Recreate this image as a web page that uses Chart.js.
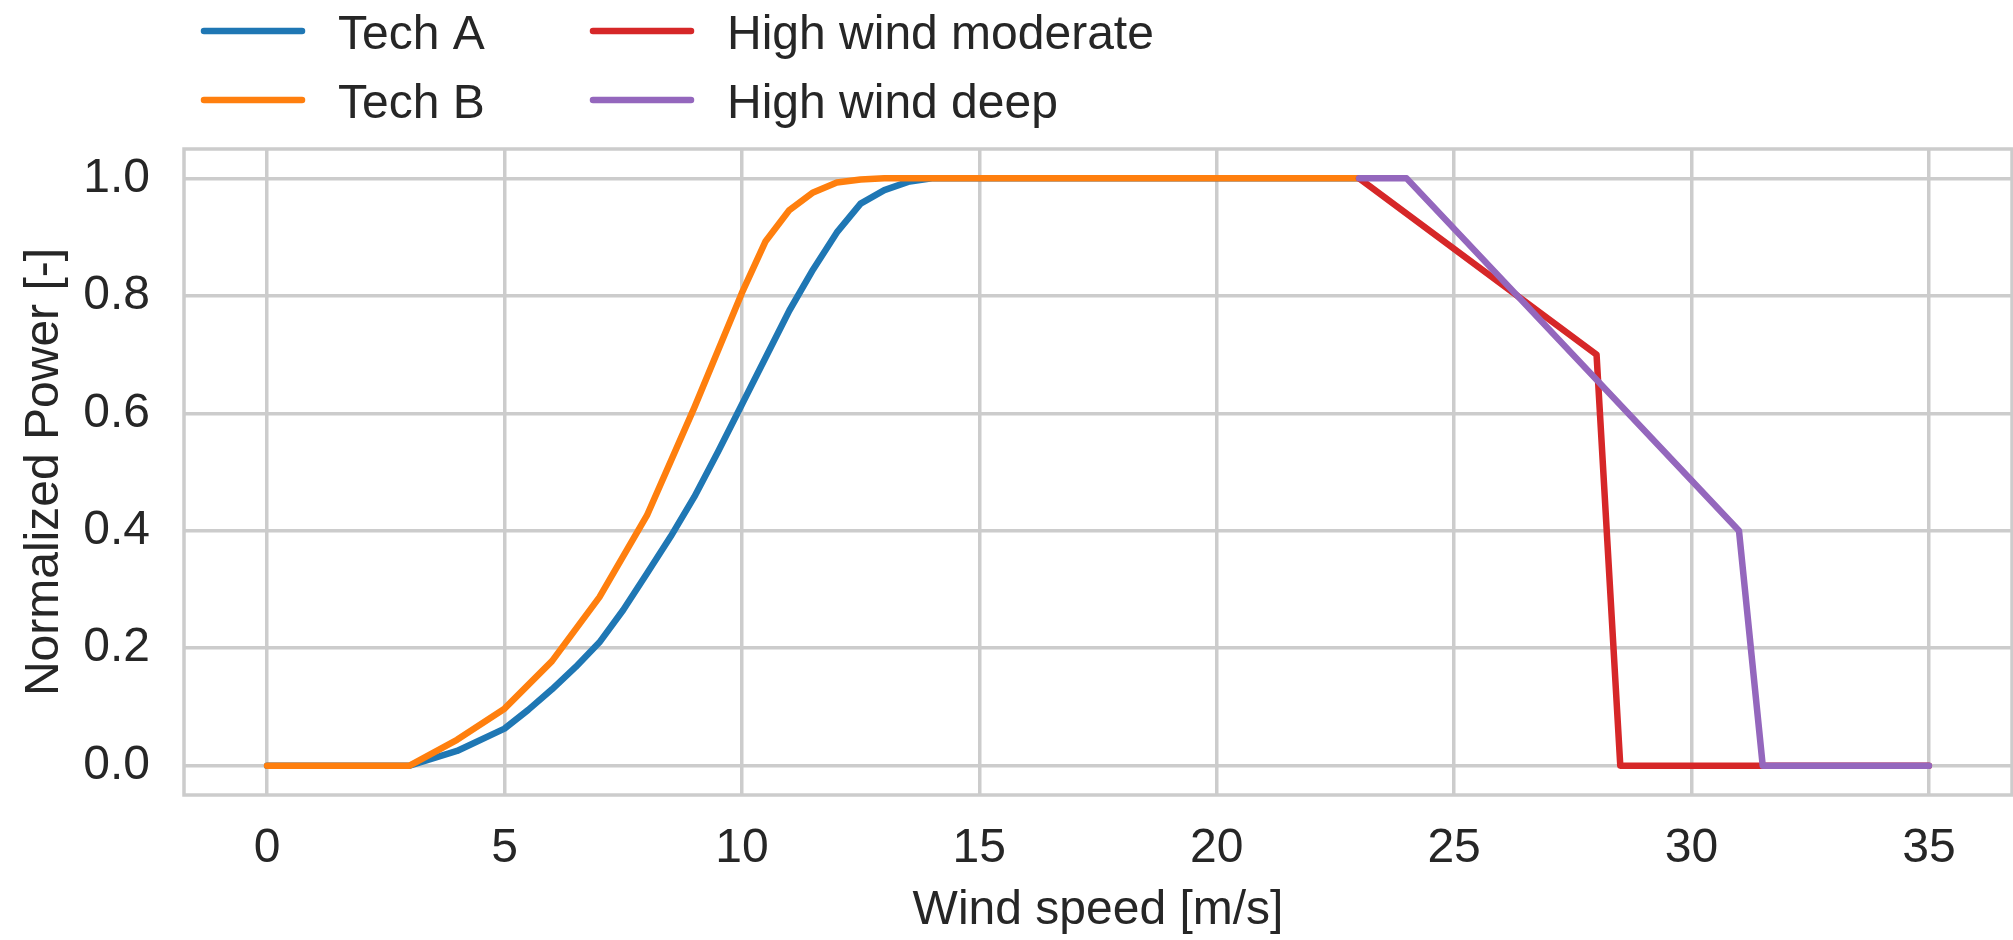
<!DOCTYPE html>
<html>
<head>
<meta charset="utf-8">
<title>Normalized power curves</title>
<script src="https://cdn.jsdelivr.net/npm/chart.js@4.4.0/dist/chart.umd.min.js"></script>
<style>
  html, body { margin: 0; padding: 0; background: #ffffff; }
</style>
</head>
<body>
<canvas id="powerChart" width="2013" height="940"></canvas>
<script>
// Power curves
var techASpeed = [0, 3, 4, 5, 5.5, 6, 6.5, 7, 7.5, 8, 8.5, 9, 9.5, 10, 10.5, 11, 11.5, 12, 12.5, 13, 13.5, 14, 23];
var techAPower = [0, 0, 0.025, 0.063, 0.095, 0.13, 0.168, 0.21, 0.265, 0.327, 0.39, 0.458, 0.535, 0.615, 0.695, 0.775, 0.845, 0.908, 0.957, 0.98, 0.994, 1.0, 1.0];

var techBSpeed = [0, 3, 4, 5, 6, 7, 8, 9, 10, 10.5, 11, 11.5, 12, 12.5, 13, 23];
var techBPower = [0, 0, 0.044, 0.097, 0.178, 0.287, 0.426, 0.61, 0.805, 0.893, 0.946, 0.976, 0.993, 0.998, 1.0, 1.0];

var moderateSpeed = [23, 28, 28.5, 35];
var moderatePower = [1.0, 0.7, 0, 0];

var deepSpeed = [23, 24, 31, 31.5, 35];
var deepPower = [1.0, 1.0, 0.4, 0, 0];

var seriesLabels = ['Tech A', 'Tech B', 'High wind moderate', 'High wind deep'];
var xTicks = [0, 5, 10, 15, 20, 25, 30, 35];
var yTicks = [0, 0.2, 0.4, 0.6, 0.8, 1.0];

var xTitle = 'Wind speed [m/s]';
var yTitle = 'Normalized Power [-]';

var colors = ['#1f77b4', '#ff7f0e', '#d62728', '#9467bd'];
var gridColor = '#cccccc';
var textColor = '#262626';
var fontFamily = '"Liberation Sans", Arial, Helvetica, sans-serif';
var fontSize = 48;

function toPoints(xs, ys)
{
    var pts = [];
    for (var i = 0; i < xs.length; ++i) {
        pts.push({x: xs[i], y: ys[i]});
    }
    return pts;
}

function makeDataset(index, xs, ys)
{
    return {
        label: seriesLabels[index],
        data: toPoints(xs, ys),
        borderColor: colors[index],
        backgroundColor: colors[index],
        borderWidth: 6.5,
        borderCapStyle: 'round',
        borderJoinStyle: 'round',
        pointRadius: 0,
        pointHoverRadius: 0,
        tension: 0,
        fill: false,
        // first dataset is drawn last in Chart.js, so order puts "deep" on top
        order: 4 - index
    };
}

// Grey frame round the plot area (seaborn whitegrid look)
var framePlugin = {
    id: 'frame',
    beforeDatasetsDraw: function (chart) {
        var a = chart.chartArea, ctx = chart.ctx;
        ctx.save();
        ctx.strokeStyle = gridColor;
        ctx.lineWidth = 3.5;
        ctx.strokeRect(a.left, a.top, a.right - a.left, a.bottom - a.top);
        ctx.restore();
    }
};

// Two-column legend above the plot, like the matplotlib one
var columnLegendPlugin = {
    id: 'columnLegend',
    afterDraw: function (chart) {
        var ctx = chart.ctx;
        var colX = [201, 590];
        var rowY = [31, 100];
        chart.data.datasets.forEach(function (ds, i) {
            var x = colX[Math.floor(i / 2)];
            var y = rowY[i % 2];
            ctx.save();
            ctx.strokeStyle = ds.borderColor;
            ctx.lineWidth = 6.5;
            ctx.lineCap = 'round';
            ctx.beginPath();
            ctx.moveTo(x + 3, y);
            ctx.lineTo(x + 101, y);
            ctx.stroke();
            ctx.fillStyle = textColor;
            ctx.font = fontSize + 'px ' + fontFamily;
            ctx.textBaseline = 'alphabetic';
            ctx.textAlign = 'left';
            ctx.fillText(ds.label, x + 137, y + 18);
            ctx.restore();
        });
    }
};

var chart = new Chart(document.getElementById('powerChart'), {
    type: 'line',
    data: {
        datasets: [
            makeDataset(0, techASpeed, techAPower),
            makeDataset(1, techBSpeed, techBPower),
            makeDataset(2, moderateSpeed, moderatePower),
            makeDataset(3, deepSpeed, deepPower)
        ]
    },
    options: {
        responsive: false,
        animation: false,
        devicePixelRatio: 1,
        layout: {
            padding: {top: 149, right: 1, bottom: 0, left: 0}
        },
        plugins: {
            legend: {display: false},
            tooltip: {enabled: false},
            title: {display: false}
        },
        scales: {
            x: {
                type: 'linear',
                min: -1.75,
                max: 36.75,
                afterBuildTicks: function (scale) {
                    scale.ticks = xTicks.map(function (v) { return {value: v}; });
                },
                afterFit: function (scale) {
                    scale.height = 145;
                },
                grid: {color: gridColor, lineWidth: 3.5, drawTicks: false},
                border: {display: false},
                ticks: {
                    color: textColor,
                    padding: 25,
                    maxRotation: 0,
                    autoSkip: false,
                    font: {family: fontFamily, size: fontSize},
                    callback: function (value) { return String(value); }
                },
                title: {
                    display: true,
                    text: xTitle,
                    color: textColor,
                    padding: {top: 0, bottom: 0},
                    font: {family: fontFamily, size: fontSize}
                }
            },
            y: {
                type: 'linear',
                min: -0.05,
                max: 1.05,
                afterBuildTicks: function (scale) {
                    scale.ticks = yTicks.map(function (v) { return {value: v}; });
                },
                afterFit: function (scale) {
                    scale.width = 184;
                },
                grid: {color: gridColor, lineWidth: 3.5, drawTicks: false},
                border: {display: false},
                ticks: {
                    color: textColor,
                    padding: 34,
                    autoSkip: false,
                    font: {family: fontFamily, size: fontSize},
                    callback: function (value) { return value.toFixed(1); }
                },
                title: {
                    display: true,
                    text: yTitle,
                    color: textColor,
                    padding: {top: 16, bottom: 0},
                    font: {family: fontFamily, size: fontSize}
                }
            }
        }
    },
    plugins: [framePlugin, columnLegendPlugin]
});
</script>
</body>
</html>
